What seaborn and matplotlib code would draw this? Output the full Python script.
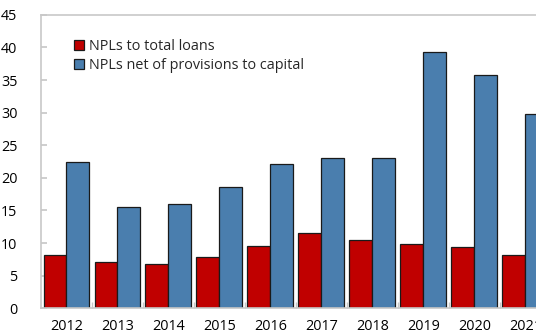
import matplotlib
matplotlib.use("Agg")
import matplotlib.pyplot as plt
from matplotlib.ticker import FixedLocator
import seaborn as sns
import pandas as pd

years = ["2012", "2013", "2014", "2015", "2016", "2017", "2018", "2019", "2020", "2021"]
npl_to_loans = [8.1, 7.1, 6.8, 7.9, 9.6, 11.5, 10.4, 9.8, 9.4, 8.2]
npl_net_to_capital = [22.5, 15.6, 16.0, 18.6, 22.1, 23.0, 23.0, 39.3, 35.8, 29.8]
series_names = ["NPLs to total loans", "NPLs net of provisions to capital"]
colors = ["#C00000", "#4A7EAE"]

df = pd.DataFrame({
    "year": years * 2,
    "value": npl_to_loans + npl_net_to_capital,
    "series": [series_names[0]] * len(years) + [series_names[1]] * len(years),
})

sns.set_theme(style="white")
plt.rcParams["font.family"] = ["Open Sans", "DejaVu Sans"]

fig = plt.figure(figsize=(5.36, 3.35), dpi=100)
ax = fig.add_axes([0.0765, 0.0797, 0.951, 0.876])

sns.barplot(data=df, x="year", y="value", hue="series", palette=colors,
            width=0.9, gap=0, edgecolor="#1a1a1a", linewidth=0.9,
            saturation=1, ax=ax)

ax.set_ylim(0, 45)
ax.set_xlim(-0.5, len(years) - 0.5)
ax.set_yticks(range(0, 46, 5))
ax.set_xlabel("")
ax.set_ylabel("")

spine_color = "#c8c8c8"
for side in ["left", "bottom", "top", "right"]:
    ax.spines[side].set_color(spine_color)
    ax.spines[side].set_linewidth(1.2)

ax.tick_params(axis="y", direction="in", length=4, color=spine_color,
               labelsize=10.4, pad=17, labelcolor="#000000", left=True)
ax.tick_params(axis="x", which="major", length=0, labelsize=10.4, pad=8,
               labelcolor="#000000")
ax.xaxis.set_minor_locator(FixedLocator([i + 0.5 for i in range(len(years) - 1)]))
ax.tick_params(axis="x", which="minor", direction="in", length=4,
               color=spine_color, bottom=True)

leg = ax.legend(loc="upper left", bbox_to_anchor=(0.053, 0.937), frameon=False,
                fontsize=10.4, handlelength=0.7, handleheight=0.7,
                handletextpad=0.35, labelspacing=0.3, borderaxespad=0)

fig.savefig("out.png", dpi=100)
